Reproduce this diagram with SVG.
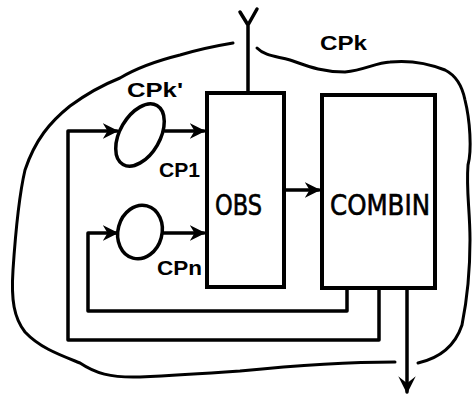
<svg xmlns="http://www.w3.org/2000/svg" width="474" height="395" viewBox="0 0 474 395">
<defs>
<style>
.ln{fill:none;stroke:#000;stroke-width:3.5;stroke-linejoin:round;stroke-linecap:round}
.cl{fill:none;stroke:#000;stroke-width:3;stroke-linejoin:round;stroke-linecap:round}
.bx{fill:#fff;stroke:#000;stroke-width:4}
.lb{font-family:"Liberation Sans",Arial,sans-serif;font-weight:bold;font-size:21px;fill:#000}
.bt{font-family:"DejaVu Sans Condensed","DejaVu Sans",sans-serif;font-size:29px;fill:#000;stroke:#000;stroke-width:0.6}
</style>
<marker id="ah" viewBox="0 0 10 10" refX="9" refY="5" markerWidth="4.5" markerHeight="4.5" orient="auto" markerUnits="strokeWidth">
<path d="M0,0 L10,5 L0,10 L3,5 Z" fill="#000"/>
</marker>
<marker id="ahb" viewBox="0 0 10 10" refX="9" refY="5" markerWidth="5" markerHeight="5" orient="auto" markerUnits="strokeWidth">
<path d="M0,0 L10,5 L0,10 L4,5 Z" fill="#000"/>
</marker>
</defs>
<g id="cloud">
<path class="cl" d="M233,43 C215,46 200,49 180,55 C160,60 140,66 120,78 C100,86 85,95 70,106 C50,122 35,140 25,170 C18,200 15,240 13,270 C11,300 14,318 25,332 C40,348 60,355 80,363 C95,373 110,378 140,377 C180,375 210,373 240,371 C290,366 340,362 395,362"/>
<path class="cl" d="M418,363 C440,358 455,346 462,325 C467,300 470,270 470,240 C470,210 466,190 468,165 C472,150 470,120 465,100 C462,85 455,75 445,70 C430,64 410,60 390,62 C375,63 365,70 345,72 C320,72 305,65 290,60 C275,56 265,56 257,48"/>
</g>
<g id="antenna">
<path class="ln" d="M248,93 L248,25 M240,12 L248,25 L257,9"/>
</g>
<g id="connectors">
<path class="ln" d="M284,190 L319,190" marker-end="url(#ah)"/>
<path class="ln" d="M68,131 L68,340 L379,340 L379,288 M68,131 L117,131" marker-end="url(#ah)"/>
<path class="ln" d="M165,131 L204,131" marker-end="url(#ah)"/>
<path class="ln" d="M88,233 L88,311 L347,311 L347,288 M88,233 L117,233" marker-end="url(#ah)"/>
<path class="ln" d="M163,233 L204,233" marker-end="url(#ah)"/>
<path class="ln" d="M407,288 L407,392" marker-end="url(#ahb)"/>
</g>
<g id="cpk1">
<ellipse class="ln" cx="140" cy="135" rx="20" ry="34" transform="rotate(30 140 135)"/>
</g>
<g id="cpn">
<ellipse class="ln" cx="140" cy="232" rx="22" ry="27" transform="rotate(15 140 232)"/>
</g>
<g id="obs">
<rect class="bx" x="207" y="93" width="77" height="194"/>
<text class="bt" x="215" y="215" textLength="47" lengthAdjust="spacingAndGlyphs">OBS</text>
</g>
<g id="combin">
<rect class="bx" x="322" y="95" width="113" height="193"/>
<text class="bt" x="330" y="215" textLength="100" lengthAdjust="spacingAndGlyphs">COMBIN</text>
</g>
<g id="labels">
<text class="lb" x="320" y="50" textLength="47" lengthAdjust="spacingAndGlyphs">CPk</text>
<text class="lb" x="127" y="97" textLength="56" lengthAdjust="spacingAndGlyphs">CPk'</text>
<text class="lb" x="159" y="177" textLength="41" lengthAdjust="spacingAndGlyphs">CP1</text>
<text class="lb" x="157" y="275" textLength="45" lengthAdjust="spacingAndGlyphs">CPn</text>
</g>
</svg>
